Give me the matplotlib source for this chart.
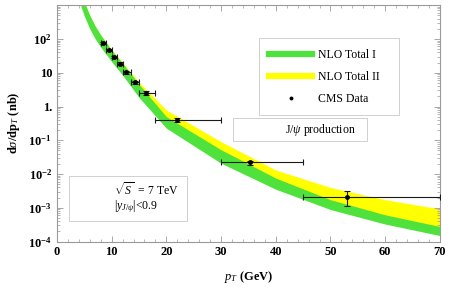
import numpy as np
import matplotlib.pyplot as plt
from matplotlib.lines import Line2D
from matplotlib.patches import Rectangle
from matplotlib.ticker import FixedLocator, FixedFormatter, LogLocator, MultipleLocator, NullFormatter

plt.rcParams['font.family'] = ['Liberation Serif', 'DejaVu Serif']
plt.rcParams['mathtext.fontset'] = 'custom'
plt.rcParams['mathtext.rm'] = 'Liberation Serif'
plt.rcParams['mathtext.it'] = 'Liberation Serif:italic'
plt.rcParams['mathtext.bf'] = 'Liberation Serif:bold'

# theory bands (nb)
band_pt = [4, 5, 6, 7, 8, 10, 12, 15, 20, 30, 40, 50, 60, 70]
green_hi = [4000, 1260, 501, 240, 132, 46.8, 19.1, 4.57, 0.50, 0.0525, 0.0076, 0.00174, 0.00062, 0.00028]
green_lo = [1413, 479, 200, 100, 57.5, 21.4, 8.5, 1.86, 0.229, 0.0209, 0.00355, 0.00089, 0.00033, 0.000151]
yellow_hi = [4000, 1260, 501, 240, 132, 47.9, 20.0, 5.25, 0.79, 0.091, 0.0132, 0.0040, 0.00174, 0.00093]
yellow_lo = [2000, 700, 300, 150, 85, 31, 12.5, 2.8, 0.33, 0.032, 0.005, 0.0012, 0.00045, 0.0002]

# CMS data
cms_pt = np.array([8.5, 9.6, 10.5, 11.5, 12.7, 14.3, 16.3, 21.9, 35.3, 53.1])
cms_bin_lo = np.array([8, 9, 10, 11, 12, 13.5, 15, 18, 30, 45])
cms_bin_hi = np.array([9, 10, 11, 12, 13.5, 15, 18, 30, 45, 70])
cms_val = [75, 47, 29, 18.6, 10.4, 5.3, 2.5, 0.40, 0.022, 0.0021]
cms_err = [6, 4, 2.5, 1.6, 1.0, 0.5, 0.3, 0.06, 0.003, 0.001]

y_ticks = [1e-4, 1e-3, 1e-2, 1e-1, 1, 10, 100]
y_labels = [r'$\mathbf{10^{-4}}$', r'$\mathbf{10^{-3}}$', r'$\mathbf{10^{-2}}$',
            r'$\mathbf{10^{-1}}$', '1.', '10', r'$\mathbf{10^{2}}$']

green = '#4fe23c'
yellow = '#ffff00'
frame = '#9a9a9a'

fig = plt.figure(figsize=(4.63, 2.9), dpi=100)
ax = fig.add_axes([0.123, 0.167, 0.827, 0.815])

ax.fill_between(band_pt, yellow_lo, yellow_hi, color=yellow, lw=0, zorder=1)
ax.fill_between(band_pt, green_lo, green_hi, color=green, lw=0, zorder=2)

ax.errorbar(cms_pt, cms_val, xerr=[cms_pt - cms_bin_lo, cms_bin_hi - cms_pt], yerr=cms_err,
            fmt='o', ms=2.5, color='k', ecolor='#1a1a1a', elinewidth=0.8,
            capsize=2, capthick=0.8, zorder=5)

ax.set_yscale('log')
ax.set_xlim(0, 70)
ax.set_ylim(1e-4, 1e3)

ax.xaxis.set_major_locator(MultipleLocator(10))
ax.xaxis.set_minor_locator(MultipleLocator(2))
ax.yaxis.set_major_locator(FixedLocator(y_ticks))
ax.yaxis.set_major_formatter(FixedFormatter(y_labels))
ax.yaxis.set_minor_locator(LogLocator(base=10, subs=np.arange(2, 10), numticks=20))
ax.yaxis.set_minor_formatter(NullFormatter())

ax.tick_params(which='both', direction='in', top=True, right=True, color=frame,
               labelsize=9)
ax.tick_params(which='major', length=4, width=0.6)
ax.tick_params(which='minor', length=2, width=0.5)
for lab in ax.get_xticklabels() + ax.get_yticklabels():
    lab.set_fontweight('bold')
for s in ax.spines.values():
    s.set_color(frame)
    s.set_linewidth(0.8)

ax.set_xlabel(r'$p_T$ (GeV)', fontsize=9, fontweight='bold')
ax.set_ylabel(r'd$\sigma$/dp$_T$ (nb)', fontsize=9, fontweight='bold')
ax.xaxis.set_label_coords(0.5, -0.115)
ax.yaxis.set_label_coords(-0.092, 0.504)

# legend
handles = [Line2D([], [], color=green, lw=4.5),
           Line2D([], [], color=yellow, lw=4.5),
           Line2D([], [], marker='o', ms=1.8, color='k', ls='none')]
leg = ax.legend(handles, ['NLO Total I', 'NLO Total II', 'CMS Data'],
                loc='upper left', bbox_to_anchor=(0.527, 0.571, 0.366, 0.29),
                mode='expand', borderaxespad=0,
                fontsize=8.5, handlelength=3.6, labelspacing=0.85, borderpad=0.9,
                handletextpad=0.5, fancybox=False, framealpha=1, edgecolor='#d0d0d0')
leg.get_frame().set_linewidth(0.7)
leg.set_zorder(6)

# text boxes
ax.add_patch(Rectangle((0.4595, 0.426), 0.3495, 0.097, transform=ax.transAxes,
                       facecolor='white', edgecolor='#d0d0d0', lw=0.7, zorder=6))
ax.text(0.687, 0.472, r'J/$\psi$ production', transform=ax.transAxes,
        fontsize=8.5, ha='center', va='center', zorder=7)

ax.add_patch(Rectangle((0.031, 0.0875), 0.308, 0.19, transform=ax.transAxes,
                       facecolor='white', edgecolor='#d0d0d0', lw=0.7, zorder=6))
ax.text(0.148, 0.219, r'$\sqrt{S}$  = 7 TeV', transform=ax.transAxes,
        fontsize=8.5, ha='left', va='center', zorder=7)
ax.text(0.148, 0.147, r'$|y_{J/\psi}|$<0.9', transform=ax.transAxes,
        fontsize=8.5, ha='left', va='center', zorder=7)

fig.savefig('out.png', dpi=100)
